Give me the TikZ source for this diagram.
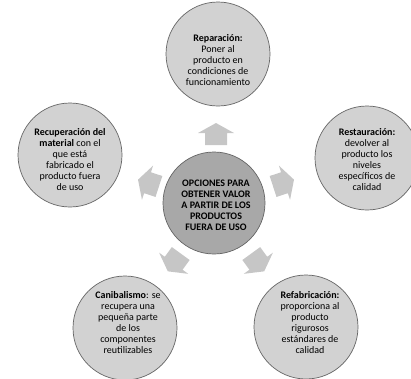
\documentclass[tikz,border=0pt]{standalone}
\usepackage{fontspec}
\setmainfont{Carlito}
\usetikzlibrary{calc}
\definecolor{outerfill}{RGB}{210,210,210}
\definecolor{centerfill}{RGB}{168,168,168}
\definecolor{ringline}{RGB}{100,100,100}
\definecolor{arrowfill}{RGB}{198,198,198}
\tikzset{
  outer/.style={circle, draw=ringline, line width=0.7pt, fill=outerfill, minimum size=104pt, inner sep=0pt},
  middle/.style={circle, draw=ringline, line width=0.7pt, fill=centerfill, minimum size=102pt, inner sep=0pt},
  txt/.style={align=center, inner sep=0pt, font=\fontsize{10}{11}\selectfont},
  blockarrow/.style={fill=arrowfill, draw=none}
}
\begin{document}
\begin{tikzpicture}[x=1pt, y=-1pt]
\useasboundingbox (0,0) rectangle (411,378);
% circles
\node[outer] (rep) at (218,54) {};
\node[outer] (res) at (367,158) {};
\node[outer] (ref) at (306,327) {};
\node[outer] (can) at (125,328) {};
\node[outer] (rec) at (70,155) {};
\node[middle] (cen) at (214,203) {};
\coordinate (hub) at (216,205);
% arrows
\foreach \a/\nm in {-90/up, -18/ur, 54/dr, 126/dl, 198/ul}{
  \coordinate (\nm-tip) at ($(hub)+(\a:82)$);
  \fill[blockarrow]
    ($(hub)+(\a:60)+(\a+90:11)$) --
    ($(hub)+(\a:72)+(\a+90:11)$) --
    ($(hub)+(\a:72)+(\a+90:18)$) --
    (\nm-tip) --
    ($(hub)+(\a:72)+(\a-90:18)$) --
    ($(hub)+(\a:72)+(\a-90:11)$) --
    ($(hub)+(\a:60)+(\a-90:11)$) -- cycle;
}
% texts
\node[txt] (reptxt) at ($(rep)+(0,6)$) {\textbf{Reparación:}\\Poner al\\producto en\\condiciones de\\funcionamiento};
\node[txt] (restxt) at ($(res)+(0,2)$) {\textbf{Restauración:}\\devolver al\\producto los\\niveles\\específicos de\\calidad};
\node[txt] (reftxt) at ($(ref)+(4,-4)$) {\textbf{Refabricación:}\\proporciona al\\producto\\rigurosos\\estándares de\\calidad};
\node[txt] (cantxt) at ($(can)+(3,-5)$) {\textbf{Canibalismo}: se\\recupera una\\pequeña parte\\de los\\componentes\\reutilizables};
\node[txt] (rectxt) at ($(rec)+(0,5)$) {\textbf{Recuperación del}\\\textbf{material} con el\\que está\\fabricado el\\producto fuera\\de uso};
\node[txt, font=\fontsize{10}{11}\selectfont\bfseries] (centxt) at (hub) {OPCIONES PARA\\OBTENER VALOR\\A PARTIR DE LOS\\PRODUCTOS\\FUERA DE USO};
\end{tikzpicture}
\end{document}
